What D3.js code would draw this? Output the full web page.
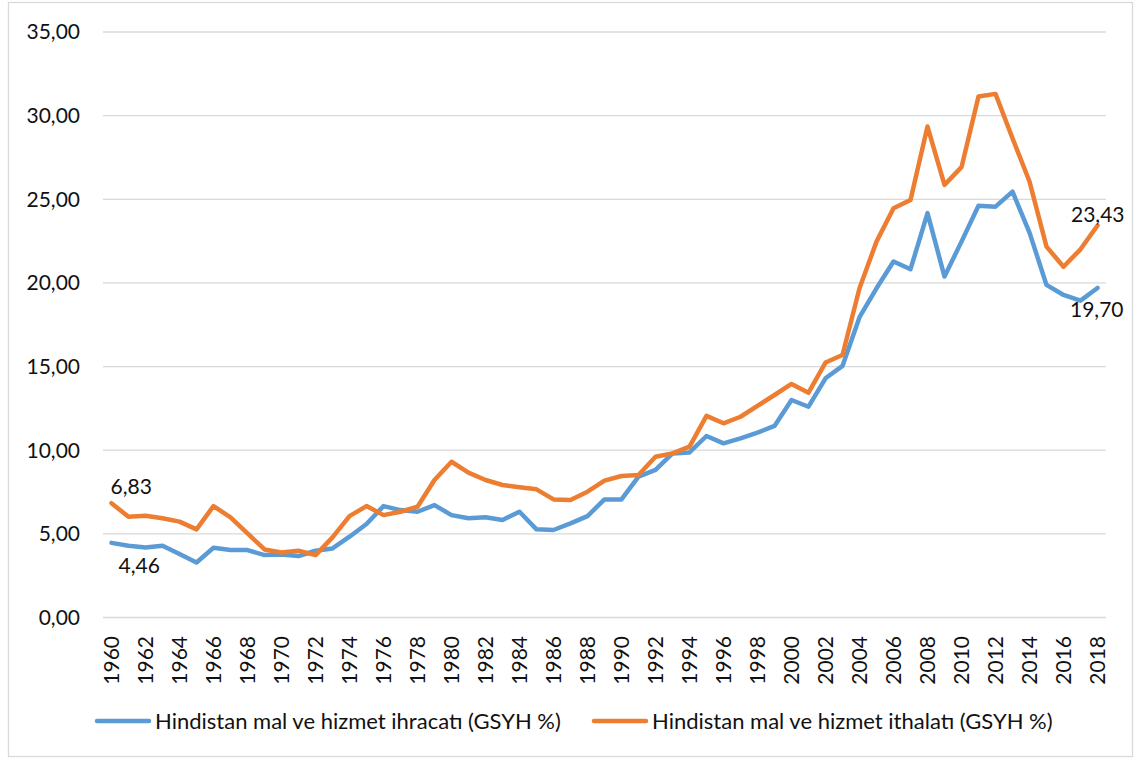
<!DOCTYPE html>
<html>
<head>
<meta charset="utf-8">
<script src="https://cdn.jsdelivr.net/npm/d3@7"></script>
<style>
  body { margin: 0; background: #fff; }
  text { font-family: Lato, "Open Sans", sans-serif; fill: #111; }
</style>
</head>
<body>
<div id="chart"></div>
<script>
// years on the category axis
var years = d3.range(1960, 2019);

// exports (% of GDP)
var ihracat = [4.46, 4.29, 4.19, 4.29, 3.79, 3.29, 4.17, 4.03, 4.03, 3.73,
  3.77, 3.67, 3.99, 4.13, 4.83, 5.59, 6.66, 6.42, 6.32, 6.72,
  6.12, 5.93, 5.99, 5.83, 6.32, 5.27, 5.23, 5.63, 6.06, 7.06,
  7.06, 8.42, 8.82, 9.81, 9.87, 10.85, 10.41, 10.71, 11.05, 11.45,
  13.00, 12.60, 14.30, 15.04, 17.95, 19.68, 21.28, 20.82, 24.17, 20.38,
  22.47, 24.61, 24.56, 25.46, 23.01, 19.88, 19.28, 18.94, 19.70];

// imports (% of GDP)
var ithalat = [6.83, 6.02, 6.08, 5.93, 5.73, 5.27, 6.66, 5.99, 5.03, 4.07,
  3.89, 3.99, 3.73, 4.79, 6.06, 6.66, 6.12, 6.32, 6.62, 8.22,
  9.31, 8.66, 8.22, 7.92, 7.78, 7.66, 7.06, 7.02, 7.52, 8.18,
  8.46, 8.52, 9.61, 9.81, 10.21, 12.05, 11.61, 12.00, 12.65, 13.30,
  13.96, 13.44, 15.24, 15.69, 19.68, 22.47, 24.47, 24.96, 29.35, 25.86,
  26.92, 31.14, 31.30, 28.65, 26.06, 22.17, 20.97, 22.01, 23.43];

var yTicks = [0, 5, 10, 15, 20, 25, 30, 35];
var seriesNames = ["Hindistan mal ve hizmet ihracatı (GSYH %)", "Hindistan mal ve hizmet ithalatı (GSYH %)"];
var colors = ["#5B9BD5", "#ED7D31"];

var width = 1138, height = 761;
var fmt = function(v) { return v.toFixed(2).replace(".", ","); };

var svg = d3.select("#chart").append("svg")
    .attr("width", width)
    .attr("height", height);

// outer frame
svg.append("rect")
    .attr("x", 8.5).attr("y", 2.5)
    .attr("width", 1124).attr("height", 754)
    .attr("fill", "#fff")
    .attr("stroke", "#D9D9D9")
    .attr("stroke-width", 1.3);

var x = d3.scaleBand().domain(years).range([103, 1106]).padding(0);
var y = d3.scaleLinear().domain([0, 35]).range([617.5, 32]);
var cx = function(yr) { return x(yr) + x.bandwidth() / 2; };

// gridlines
svg.append("g")
    .selectAll("line")
    .data(yTicks)
    .enter().append("line")
    .attr("x1", 103).attr("x2", 1106)
    .attr("y1", d => y(d)).attr("y2", d => y(d))
    .attr("stroke", "#D9D9D9")
    .attr("stroke-width", 1.3);

// y labels
svg.append("g")
    .selectAll("text")
    .data(yTicks)
    .enter().append("text")
    .attr("x", 80)
    .attr("y", d => y(d))
    .attr("dy", "0.35em")
    .style("text-anchor", "end")
    .style("font-size", "21px")
    .text(fmt);

// x labels (every other year), rotated
svg.append("g")
    .selectAll("text")
    .data(years.filter(d => d % 2 === 0))
    .enter().append("text")
    .attr("transform", d => "translate(" + (cx(d) + 7.5) + ",636) rotate(-90)")
    .style("text-anchor", "end")
    .style("font-size", "21px")
    .text(d => d);

// lines
var line = d3.line()
    .x((d, i) => cx(years[i]))
    .y(d => y(d));

[ihracat, ithalat].forEach(function(s, k) {
    svg.append("path")
        .datum(s)
        .attr("fill", "none")
        .attr("stroke", colors[k])
        .attr("stroke-width", 4.5)
        .attr("stroke-linejoin", "round")
        .attr("stroke-linecap", "round")
        .attr("d", line);
});

// data labels on first and last points
var last = years.length - 1;
var labels = [
    {v: ithalat[0], px: cx(years[0]) - 1, py: y(ithalat[0]) - 17, anchor: "start"},
    {v: ihracat[0], px: cx(years[0]) + 7, py: y(ihracat[0]) + 23, anchor: "start"},
    {v: ithalat[last], px: cx(years[last]) + 27, py: y(ithalat[last]) - 11, anchor: "end"},
    {v: ihracat[last], px: cx(years[last]) + 26, py: y(ihracat[last]) + 22, anchor: "end"}
];
svg.append("g")
    .selectAll("text")
    .data(labels)
    .enter().append("text")
    .attr("x", d => d.px)
    .attr("y", d => d.py)
    .attr("dy", "0.35em")
    .style("text-anchor", d => d.anchor)
    .style("font-size", "21px")
    .text(d => fmt(d.v));

// legend
var legendX = [95, 592];
var legend = svg.append("g")
    .selectAll("g")
    .data(seriesNames)
    .enter().append("g")
    .attr("transform", (d, i) => "translate(" + legendX[i] + ",721)");

legend.append("line")
    .attr("x1", 2).attr("x2", 54)
    .attr("stroke", (d, i) => colors[i])
    .attr("stroke-width", 4.5)
    .attr("stroke-linecap", "round");

legend.append("text")
    .attr("x", 60)
    .attr("dy", "0.35em")
    .style("font-size", "22px")
    .text(d => d);
</script>
</body>
</html>
